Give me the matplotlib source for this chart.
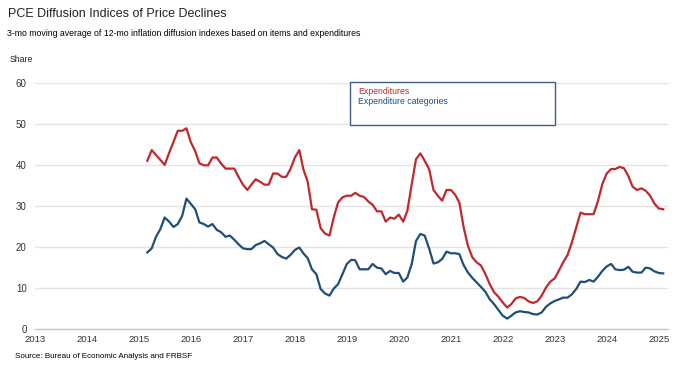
import matplotlib
matplotlib.use("Agg")
import matplotlib.pyplot as plt
import matplotlib.dates as mdates
from matplotlib.patches import Rectangle
import pandas as pd
import datetime as dt

plt.rcParams['font.family'] = ['Liberation Sans', 'DejaVu Sans']

dates = pd.date_range('2015-03-01', periods=120, freq='MS')

expenditures = [
    41.0, 43.6, 42.4, 41.2, 40.0, 42.9, 45.6, 48.3, 48.3, 48.9,
    45.5, 43.3, 40.4, 39.9, 39.9, 41.8, 41.8, 40.3, 39.1, 39.1,
    39.1, 37.1, 35.2, 33.9, 35.2, 36.5, 35.9, 35.2, 35.2, 37.9,
    37.9, 37.1, 37.1, 39.0, 41.8, 43.6, 39.0, 35.9, 29.2, 29.1,
    24.6, 23.3, 22.8, 27.2, 30.9, 32.1, 32.5, 32.5, 33.2, 32.5,
    32.2, 31.1, 30.3, 28.7, 28.7, 26.2, 27.2, 26.9, 27.9, 26.2,
    28.8, 35.3, 41.4, 42.8, 41.0, 39.0, 33.9, 32.5, 31.3, 33.9,
    33.9, 32.7, 30.9, 24.8, 20.3, 17.5, 16.3, 15.5, 13.4, 11.0,
    9.0, 7.9, 6.5, 5.3, 6.1, 7.5, 7.9, 7.6, 6.8, 6.4,
    6.8, 8.2, 10.2, 11.6, 12.4, 14.4, 16.3, 18.1, 21.1, 24.8,
    28.4, 28.0, 28.0, 28.0, 31.3, 35.3, 37.9, 39.0, 39.0, 39.5,
    39.2, 37.3, 34.7, 33.9, 34.3, 33.7, 32.5, 30.6, 29.4, 29.2,
]

categories = [
    18.7, 19.7, 22.5, 24.4, 27.2, 26.2, 24.9, 25.6, 27.6, 31.8,
    30.5, 29.2, 26.0, 25.6, 25.0, 25.6, 24.2, 23.6, 22.5, 22.8,
    21.8, 20.7, 19.7, 19.5, 19.5, 20.5, 20.9, 21.5, 20.7, 19.9,
    18.3, 17.6, 17.2, 18.1, 19.3, 19.9, 18.5, 17.3, 14.6, 13.4,
    9.8, 8.7, 8.2, 9.9, 11.0, 13.4, 15.9, 16.9, 16.8, 14.6,
    14.6, 14.6, 15.9, 15.0, 14.8, 13.4, 14.2, 13.7, 13.7, 11.6,
    12.6, 15.9, 21.5, 23.2, 22.8, 19.7, 16.0, 16.3, 17.1, 18.9,
    18.5, 18.5, 18.3, 15.6, 13.8, 12.5, 11.4, 10.3, 9.1, 7.3,
    6.1, 4.7, 3.3, 2.6, 3.3, 4.1, 4.4, 4.2, 4.1, 3.7,
    3.6, 4.1, 5.5, 6.3, 6.9, 7.3, 7.7, 7.7, 8.5, 9.8,
    11.6, 11.5, 12.0, 11.6, 12.8, 14.2, 15.3, 15.9, 14.6, 14.4,
    14.5, 15.2, 14.0, 13.8, 13.8, 15.0, 14.8, 14.1, 13.7, 13.6,
]

y_ticks = [0, 10, 20, 30, 40, 50, 60]
series_labels = ['Expenditures', 'Expenditure categories']

RED = '#C0282D'
BLUE = '#1F4E79'

fig = plt.figure(figsize=(6.8, 3.72), dpi=100)
ax = fig.add_axes([0.0515, 0.1148, 0.9305, 0.6629])

ax.plot(dates, expenditures, color=RED, lw=1.6, solid_joinstyle='round')
ax.plot(dates, categories, color=BLUE, lw=1.6, solid_joinstyle='round')

ax.set_ylim(0, 60)
ax.set_yticks(y_ticks)
ax.set_xlim(dt.datetime(2013, 1, 1), dt.datetime(2025, 3, 5))
ax.xaxis.set_major_locator(mdates.YearLocator())
ax.xaxis.set_major_formatter(mdates.DateFormatter('%Y'))

ax.grid(axis='y', color='#E4E4E4', lw=1.0)
ax.set_axisbelow(True)
for s in ['top', 'right', 'left']:
    ax.spines[s].set_visible(False)
ax.spines['bottom'].set_color('#C8C8C8')
ax.spines['bottom'].set_linewidth(1.0)
ax.tick_params(axis='y', length=0, labelsize=7, colors='#333333', pad=6)
ax.tick_params(axis='x', length=0, labelsize=6.8, colors='#333333', pad=4)

fig.text(8/680, 1 - 14/372, 'PCE Diffusion Indices of Price Declines',
         fontsize=9.0, color='#222222', va='center', ha='left')
fig.text(7/680, 1 - 33/372,
         '3-mo moving average of 12-mo inflation diffusion indexes based on items and expenditures',
         fontsize=6.3, color='#000000', va='center', ha='left')
fig.text(10/680, 1 - 59/372, 'Share', fontsize=6.3, color='#222222', va='center', ha='left')
fig.text(15/680, 1 - 357/372, 'Source: Bureau of Economic Analysis and FRBSF',
         fontsize=5.8, color='#000000', va='center', ha='left')

# legend box
fig.patches.append(Rectangle((350/680, 1 - 125/372), 205/680, 43/372,
                             transform=fig.transFigure, facecolor='white',
                             edgecolor='#3E5C86', lw=1.0, zorder=5))
fig.text(358/680, 1 - 91/372, series_labels[0], fontsize=6.3, color=RED,
         va='center', ha='left', zorder=6)
fig.text(358/680, 1 - 101/372, series_labels[1], fontsize=6.3, color=BLUE,
         va='center', ha='left', zorder=6)

fig.savefig('out.png', dpi=100)
